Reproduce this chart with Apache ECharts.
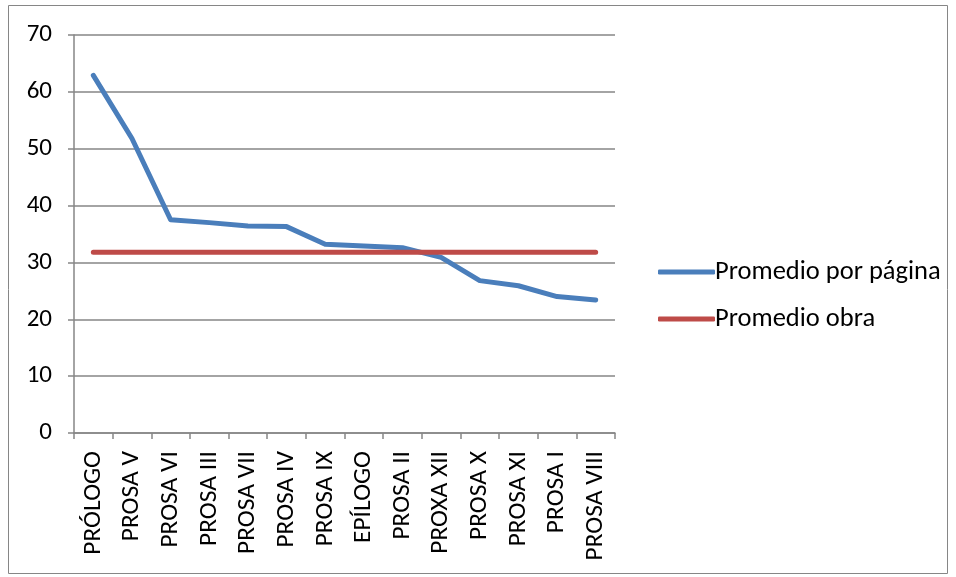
<!DOCTYPE html>
<html>
<head>
<meta charset="utf-8">
<script src="https://cdn.jsdelivr.net/npm/echarts@6/dist/echarts.min.js"></script>
<style>
  html, body { margin: 0; padding: 0; background: #fff; }
  #chart { width: 956px; height: 577px; }
</style>
</head>
<body>
<div id="chart"></div>
<script>
// Sections, ordered by average per page
const categories = ['PRÓLOGO', 'PROSA V', 'PROSA VI', 'PROSA III', 'PROSA VII', 'PROSA IV', 'PROSA IX', 'EPÍLOGO', 'PROSA II', 'PROXA XII', 'PROSA X', 'PROSA XI', 'PROSA I', 'PROSA VIII'];
const promedioPorPagina = [62.9, 51.8, 37.5, 37.0, 36.4, 36.3, 33.2, 32.9, 32.6, 30.9, 26.8, 25.9, 24.0, 23.4];
const promedioObraValue = 31.8;
const promedioObra = categories.map(() => promedioObraValue);
const yTicks = { min: 0, max: 70, interval: 10 };

const font = 'Carlito, Lato, "Liberation Sans", sans-serif';
const chart = echarts.init(document.getElementById('chart'));
chart.setOption({
  animation: false,
  backgroundColor: '#fff',
  graphic: [{
    type: 'rect',
    shape: { x: 8.5, y: 5.5, width: 939, height: 568 },
    style: { fill: 'none', stroke: '#868686', lineWidth: 1 }
  }],
  grid: { left: 74, right: 341, top: 35, bottom: 144, containLabel: false },
  legend: {
    orient: 'vertical',
    left: 653,
    top: 252,
    itemWidth: 57,
    itemHeight: 5,
    itemGap: 17,
    icon: 'roundRect',
    textStyle: { fontFamily: font, fontSize: 26.5, lineHeight: 30, color: '#000', padding: [0, 0, 0, -5] },
    data: ['Promedio por página', 'Promedio obra']
  },
  xAxis: {
    type: 'category',
    data: categories,
    boundaryGap: true,
    axisLine: { lineStyle: { color: '#868686', width: 1.5 } },
    axisTick: { show: true, length: 6, lineStyle: { color: '#868686', width: 1.5 } },
    axisLabel: {
      rotate: 90, interval: 0, margin: 18,
      fontFamily: font, fontSize: 25.5, color: '#000'
    },
    splitLine: { show: false }
  },
  yAxis: {
    type: 'value',
    min: yTicks.min, max: yTicks.max, interval: yTicks.interval,
    axisLine: { show: true, lineStyle: { color: '#868686', width: 1.5 } },
    axisTick: { show: true, length: 6, lineStyle: { color: '#868686', width: 1.5 } },
    axisLabel: { margin: 22, fontFamily: font, fontSize: 25, color: '#000' },
    splitLine: { show: true, lineStyle: { color: '#868686', width: 1.5 } }
  },
  series: [
    {
      name: 'Promedio por página',
      type: 'line',
      data: promedioPorPagina,
      symbol: 'none',
      color: '#4a7ebb',
      lineStyle: { width: 5, color: '#4a7ebb', cap: 'round', join: 'round' }
    },
    {
      name: 'Promedio obra',
      type: 'line',
      data: promedioObra,
      symbol: 'none',
      color: '#be4b48',
      lineStyle: { width: 5, color: '#be4b48', cap: 'round' }
    }
  ]
});
</script>
</body>
</html>
